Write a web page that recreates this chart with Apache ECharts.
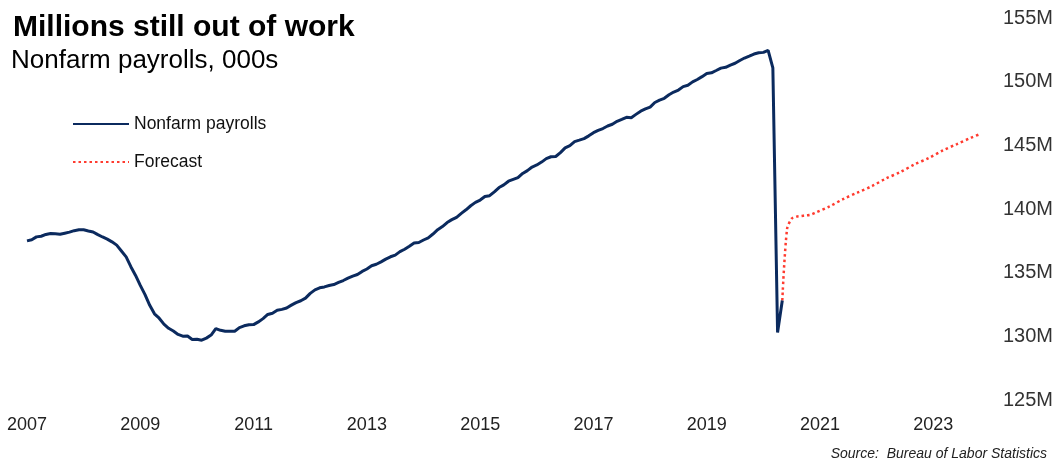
<!DOCTYPE html>
<html>
<head>
<meta charset="utf-8">
<script src="https://cdn.jsdelivr.net/npm/echarts@6/dist/echarts.min.js"></script>
<style>
html,body{margin:0;padding:0;background:#fff;}
#c{width:1059px;height:463px;}
</style>
</head>
<body>
<div id="c"></div>
<script>
// Monthly nonfarm payrolls (000s), Jan 2007 .. May 2020
const startYear = 2007;
const payrolls = [
  // 2007
  137497,137583,137810,137859,138002,138078,138053,138012,138099,138183,138297,138366,
  // 2008
  138365,138279,138199,137985,137803,137631,137421,137162,136704,136235,135471,134781,
  // 2009
  133998,133275,132438,131767,131424,130957,130632,130417,130151,130014,130024,129754,
  // 2010
  129776,129696,129860,130097,130612,130473,130401,130391,130398,130687,130826,130911,
  // 2011
  130920,131134,131391,131716,131815,132045,132116,132229,132449,132651,132793,133001,
  // 2012
  133377,133651,133808,133881,133990,134070,134230,134383,134569,134729,134853,135100,
  // 2013
  135290,135543,135660,135848,136065,136247,136377,136650,136840,137072,137328,137371,
  // 2014
  137566,137733,138035,138372,138617,138938,139165,139349,139657,139938,140255,140519,
  // 2015
  140704,140977,141047,141352,141686,141890,142182,142322,142457,142789,143013,143298,
  // 2016
  143457,143684,143954,144102,144126,144428,144799,144978,145286,145405,145529,145745,
  // 2017
  145992,146176,146319,146521,146653,146887,147041,147200,147174,147432,147684,147858,
  // 2018
  148001,148365,148547,148694,148970,149184,149343,149611,149719,149985,150172,150394,
  // 2019
  150639,150695,150876,151063,151125,151303,151445,151664,151857,152008,152170,152267,
  // 2020
  152300,152463,151090,130303,132813
];
// Forecast: [year, month (1-12)] and values (000s)
const forecastMonths = [
  [2020,5],[2020,6],[2020,7],[2020,8],[2020,9],[2020,10],[2020,11],[2020,12],
  [2021,3],[2021,6],[2021,9],[2021,12],
  [2022,3],[2022,6],[2022,9],[2022,12],
  [2023,3],[2023,6],[2023,9],[2023,11]
];
const forecastValues = [
  132813,138400,139250,139400,139450,139500,139550,139700,
  140200,140800,141300,141800,
  142400,142900,143500,144000,
  144600,145100,145600,145900
];
const yTicks = {min:125000, max:155000, step:5000};
const xTicks = {min:2007, max:2024, step:2};

const actualData = payrolls.map((v,i)=>[startYear + i/12, v]);
const forecastData = forecastMonths.map((m,i)=>[m[0] + (m[1]-1)/12, forecastValues[i]]);

const FONT = "'Liberation Sans', Arial, sans-serif";

const chart = echarts.init(document.getElementById('c'), null, {renderer:'canvas'});
chart.setOption({
  backgroundColor:'#ffffff',
  animation:false,
  title:[
    {text:'Millions still out of work', left:8, top:8,
     textStyle:{fontFamily:FONT, fontSize:30, fontWeight:'bold', color:'#000'}},
    {text:'Nonfarm payrolls, 000s', left:6, top:43,
     textStyle:{fontFamily:FONT, fontSize:26, fontWeight:'normal', color:'#000'}}
  ],
  legend:{
    orient:'vertical', left:72, top:115, padding:0, itemWidth:56, itemHeight:18, itemGap:20,
    itemStyle:{opacity:0},
    textStyle:{fontFamily:FONT, fontSize:17.5, color:'#111'},
    data:['Nonfarm payrolls','Forecast']
  },
  grid:{left:27, right:69, top:18, bottom:63, containLabel:false},
  xAxis:{
    type:'value', min:xTicks.min, max:xTicks.max, interval:xTicks.step,
    axisLine:{show:false}, axisTick:{show:false}, splitLine:{show:false},
    axisLabel:{margin:16, fontFamily:FONT, fontSize:18, color:'#222',
      formatter:v=>String(Math.round(v)), showMaxLabel:false}
  },
  yAxis:{
    type:'value', position:'right', min:yTicks.min, max:yTicks.max, interval:yTicks.step,
    axisLine:{show:false}, axisTick:{show:false}, splitLine:{show:false},
    axisLabel:{margin:13, fontFamily:FONT, fontSize:20, color:'#333',
      formatter:v=>(v/1000)+'M'}
  },
  series:[
    {name:'Nonfarm payrolls', type:'line', data:actualData, symbol:'none',
     lineStyle:{color:'#0B2A5E', width:3}, itemStyle:{color:'#0B2A5E'}, z:3},
    {name:'Forecast', type:'line', data:forecastData, symbol:'none', smooth:0.3,
     lineStyle:{color:'#FF3B2F', width:2.5, type:[2.5,3]}, itemStyle:{color:'#FF3B2F'}, z:2}
  ],
  graphic:[
    {type:'text', right:12, top:447,
     style:{text:'Source:  Bureau of Labor Statistics', font:"italic 14px "+FONT, fill:'#222'}}
  ]
});
</script>
</body>
</html>
